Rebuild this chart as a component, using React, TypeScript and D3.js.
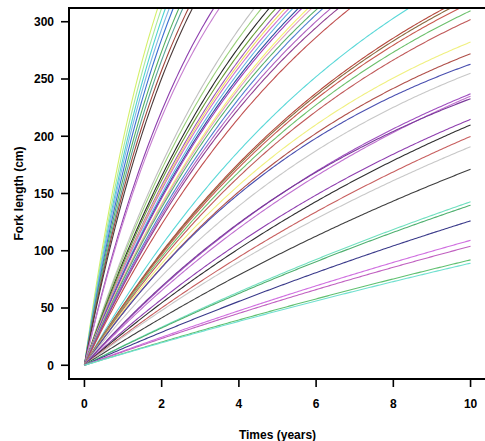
import React, { useEffect, useRef } from 'react';
import * as d3 from 'd3';

// growth curves, one per fish: colour, asymptotic length (cm) and growth rate K (per year)
const lineColors = [
  '#d4f06a', '#a6e8a0', '#4fd3d0', '#7fb5e6', '#3d6fd1', '#55b060', '#5aa39a', '#a0463c',
  '#4a3a3a', '#8e3fae', '#c77fd0', '#c0c0c0', '#9ad07a', '#2a2a2a', '#6b9e3a', '#a05ab8',
  '#f0e060', '#d070c8', '#60b8e0', '#3050a0', '#9d3fb8', '#f5f070', '#e0a0c0', '#5ab06a',
  '#5080d0', '#b060c0', '#904090', '#c05050', '#5ad8d8', '#b5483c', '#8a6a40', '#c85a50',
  '#6cc06c', '#c05a5a', '#f0f080', '#b0504a', '#4a50b0', '#c8c8c8', '#a050c0', '#c070d0',
  '#7a3a9a', '#9040b0', '#303030', '#c86060', '#c8c8c8', '#404040', '#70e0c0', '#50b070',
  '#3a3a8a', '#d070e0', '#c060c0', '#60c070', '#70e0d0'
];
const lInf = [
  543, 549, 549, 533, 535, 515, 519, 502,
  508, 492, 480, 533, 519, 522, 511, 519,
  513, 507, 519, 511, 506, 516, 511, 503,
  516, 506, 497, 504, 491, 463, 459, 453,
  443, 432, 388, 374, 349, 365, 375, 396,
  349, 390, 417, 443, 423, 435, 433, 424,
  427, 421, 401, 416, 403
];
const kGrowth = [
  0.45, 0.42, 0.40, 0.40, 0.38, 0.38, 0.36, 0.36,
  0.34, 0.30, 0.30, 0.20, 0.20, 0.19, 0.19, 0.18,
  0.18, 0.18, 0.17, 0.17, 0.17, 0.16, 0.16, 0.16,
  0.15, 0.15, 0.15, 0.14, 0.12, 0.12, 0.12, 0.12,
  0.12, 0.12, 0.13, 0.13, 0.14, 0.12, 0.10, 0.09,
  0.11, 0.08, 0.07, 0.06, 0.06, 0.05, 0.04, 0.04,
  0.035, 0.03, 0.03, 0.025, 0.025
];

const xTicks = [0, 2, 4, 6, 8, 10];
const yTicks = [0, 50, 100, 150, 200, 250, 300];

const App = () => {
  const svgRef = useRef(null);

  useEffect(() => {
    const svg = d3.select(svgRef.current);
    svg.selectAll('*').remove();

    const plot = { left: 69, right: 486, top: 8, bottom: 379 };
    const font = '"Liberation Sans", Arial, sans-serif';

    const x = d3.scaleLinear().domain([-0.4, 10.4]).range([plot.left, plot.right]);
    const y = d3.scaleLinear().domain([-12, 312]).range([plot.bottom, plot.top]);

    svg.append('defs').append('clipPath').attr('id', 'plot-clip')
      .append('rect')
      .attr('x', plot.left)
      .attr('y', plot.top)
      .attr('width', plot.right - plot.left)
      .attr('height', plot.bottom - plot.top);

    // curves
    const ages = d3.range(0, 10.0001, 0.05);
    const line = d3.line().x(d => x(d[0])).y(d => y(d[1]));
    const curves = svg.append('g').attr('clip-path', 'url(#plot-clip)');
    lInf.forEach((L, i) => {
      const pts = ages.map(t => [t, L * (1 - Math.exp(-kGrowth[i] * t))]);
      curves.append('path')
        .attr('d', line(pts))
        .style('fill', 'none')
        .style('stroke', lineColors[i])
        .style('stroke-width', '1.1px');
    });

    // box
    svg.append('rect')
      .attr('x', plot.left)
      .attr('y', plot.top)
      .attr('width', plot.right - plot.left)
      .attr('height', plot.bottom - plot.top)
      .style('fill', 'none')
      .style('stroke', '#000')
      .style('stroke-width', '2px');

    // x axis
    const xAxis = svg.append('g');
    xTicks.forEach(t => {
      xAxis.append('line')
        .attr('x1', x(t)).attr('x2', x(t))
        .attr('y1', plot.bottom).attr('y2', plot.bottom + 8)
        .style('stroke', '#000').style('stroke-width', '1.6px');
      xAxis.append('text')
        .attr('x', x(t)).attr('y', 408)
        .attr('text-anchor', 'middle')
        .style('font-family', font).style('font-size', '12px').style('font-weight', 'bold')
        .text(t);
    });

    // y axis
    const yAxis = svg.append('g');
    yTicks.forEach(v => {
      yAxis.append('line')
        .attr('x1', plot.left - 8).attr('x2', plot.left)
        .attr('y1', y(v)).attr('y2', y(v))
        .style('stroke', '#000').style('stroke-width', '1.6px');
      yAxis.append('text')
        .attr('x', 54).attr('y', y(v))
        .attr('dy', '0.36em')
        .attr('text-anchor', 'end')
        .style('font-family', font).style('font-size', '12px').style('font-weight', 'bold')
        .text(v);
    });

    // titles
    svg.append('text')
      .attr('x', (plot.left + plot.right) / 2).attr('y', 439)
      .attr('text-anchor', 'middle')
      .style('font-family', font).style('font-size', '12px').style('font-weight', 'bold')
      .text('Times (years)');

    svg.append('text')
      .attr('transform', `translate(23,${(plot.top + plot.bottom) / 2}) rotate(-90)`)
      .attr('text-anchor', 'middle')
      .style('font-family', font).style('font-size', '12px').style('font-weight', 'bold')
      .text('Fork length (cm)');
  }, []);

  return (
    <svg
      ref={svgRef}
      width={485}
      height={441}
      style={{ position: 'absolute', left: 0, top: 0, background: '#fff' }}
    ></svg>
  );
};

export default App;
